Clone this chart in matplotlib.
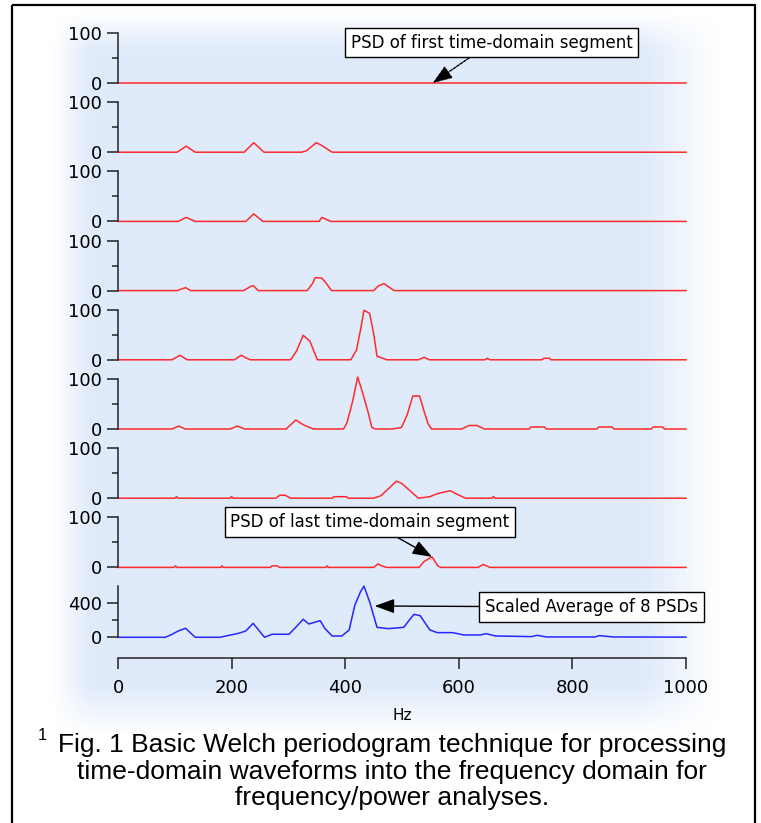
import matplotlib.pyplot as plt
from matplotlib.patches import Rectangle
import numpy as np

# PSD of each of the 8 time-domain segments (Hz, power)
seg1_hz = [0, 1000]
seg1_val = [0, 0]
seg2_hz = [0, 104, 120, 136, 222, 239, 257, 323, 332, 349, 358, 377, 1000]
seg2_val = [0, 0, 12, 0, 0, 19, 0, 0, 3, 19, 14, 0, 0]
seg3_hz = [0, 106, 120, 136, 225, 239, 255, 354, 359, 367, 374, 1000]
seg3_val = [0, 0, 8, 0, 0, 15, 0, 0, 8, 4, 0, 0]
seg4_hz = [0, 104, 119, 128, 221, 233, 238, 247, 333, 343, 347, 359, 367, 376,
           450, 458, 468, 476, 486, 1000]
seg4_val = [0, 0, 6, 0, 0, 8, 10, 0, 0, 15, 26, 25, 14, 0, 0, 9, 14, 8, 0, 0]
seg5_hz = [0, 95, 109, 122, 205, 217, 225, 233, 304, 314, 326, 338, 351, 410, 420,
           427, 433, 443, 450, 456, 469, 473, 529, 539, 548, 646, 650, 655, 746,
           750, 760, 762, 1000]
seg5_val = [0, 0, 9, 0, 0, 9, 4, 0, 0, 17, 49, 37, 0, 0, 20, 60, 99, 93, 53, 7, 2,
            0, 0, 5, 0, 0, 3, 0, 0, 3, 3, 0, 0]
seg6_hz = [0, 95, 107, 118, 198, 210, 223, 296, 313, 324, 331, 344, 397, 403, 413,
           422, 430, 440, 447, 453, 483, 499, 509, 519, 531, 539, 546, 552, 605,
           618, 632, 645, 724, 727, 751, 754, 843, 846, 870, 873, 939, 942, 959,
           962, 1000]
seg6_val = [0, 0, 6, 0, 0, 6, 0, 0, 18, 10, 6, 0, 0, 12, 55, 104, 75, 35, 3, 0, 0,
            3, 28, 66, 66, 35, 10, 0, 0, 7, 7, 0, 0, 4, 4, 0, 0, 4, 4, 0, 0, 4, 4,
            0, 0]
seg7_hz = [0, 100, 103, 106, 197, 200, 203, 278, 285, 294, 304, 377, 380, 402, 405,
           450, 463, 490, 499, 529, 549, 562, 585, 595, 612, 658, 661, 664, 1000]
seg7_val = [0, 0, 3, 0, 0, 3, 0, 0, 6, 6, 0, 0, 3, 3, 0, 0, 5, 34, 30, 0, 3, 9, 15,
            9, 0, 0, 3, 0, 0]
seg8_hz = [0, 98, 101, 104, 181, 183, 186, 268, 271, 281, 284, 366, 368, 371, 450,
           458, 464, 473, 530, 539, 553, 563, 569, 634, 643, 655, 1000]
seg8_val = [0, 0, 3, 0, 0, 3, 0, 0, 3, 3, 0, 0, 3, 0, 0, 7, 3, 0, 0, 12, 21, 3, 0,
            0, 6, 0, 0]

# scaled average of the 8 PSDs
avg_hz = [0, 83, 93, 106, 119, 136, 179, 212, 225, 238, 258, 271, 301, 314, 326, 336,
          356, 364, 377, 394, 407, 417, 427, 433, 443, 456, 476, 503, 513, 521, 532,
          549, 562, 589, 609, 638, 648, 665, 728, 738, 754, 840, 847, 873, 1000]
avg_val = [0, 0, 27, 73, 104, 0, 0, 46, 73, 161, 0, 35, 35, 123, 208, 154, 192, 104,
           15, 15, 85, 373, 527, 592, 411, 115, 100, 115, 200, 265, 250, 85, 54, 54,
           27, 27, 42, 15, 8, 23, 4, 4, 19, 4, 2]

segments = [(seg1_hz, seg1_val), (seg2_hz, seg2_val), (seg3_hz, seg3_val),
            (seg4_hz, seg4_val), (seg5_hz, seg5_val), (seg6_hz, seg6_val),
            (seg7_hz, seg7_val), (seg8_hz, seg8_val)]

xticks = [0, 200, 400, 600, 800, 1000]
caption = ["Fig. 1 Basic Welch periodogram technique for processing",
           "time-domain waveforms into the frequency domain for",
           "frequency/power analyses."]

W, H = 761, 823
fig = plt.figure(figsize=(W / 100, H / 100), dpi=100)
plt.rcParams['font.family'] = 'DejaVu Sans'

# soft light-blue backdrop + frame, drawn in pixel coords
bg = fig.add_axes([0, 0, 1, 1], zorder=-5)
bg.set_xlim(0, W)
bg.set_ylim(H, 0)
bg.axis('off')
xx = np.arange(W) + 0.5
yy = np.arange(H) + 0.5
fade_x = np.clip((xx - 52) / 40, 0, 1) * np.clip((718 - xx) / 75, 0, 1)
fade_y = np.clip((yy - 12) / 40, 0, 1) * np.clip((735 - yy) / 50, 0, 1)
img = np.ones((H, W, 4))
img[..., :3] = (0.878, 0.918, 0.988)
img[..., 3] = np.outer(fade_y, fade_x)
bg.imshow(img, extent=(0, W, H, 0), aspect='auto', interpolation='bilinear')
bg.add_patch(Rectangle((12, 5), 743, 840, fill=False, ec='black', lw=1.6,
                       clip_on=False))

left, width = 118 / W, 568 / W
red = '#ff2b2b'
blue = '#2626ff'
axes = []


def style_y(ax, top):
    for s in ['top', 'right', 'bottom']:
        ax.spines[s].set_visible(False)
    ax.spines['left'].set_bounds(0, top)
    ax.spines['left'].set_linewidth(1.1)
    ax.spines['left'].set_color('#222222')
    ax.set_facecolor('none')
    ax.tick_params(axis='y', which='major', length=8, width=1.1, pad=3.5,
                   labelsize=13, color='#222222')
    ax.tick_params(axis='y', which='minor', length=4, width=1.1, color='#222222')
    ax.set_xlim(0, 1000)


for i, (hz, val) in enumerate(segments):
    base = 83 + 69.2 * i
    ax = fig.add_axes([left, 1 - base / H, width, 50 / H])
    ax.plot(hz, val, color=red, lw=1.1, clip_on=False)
    ax.set_ylim(0, 100)
    ax.set_yticks([0, 100])
    ax.set_yticks([50], minor=True)
    ax.set_xticks([])
    style_y(ax, 100)
    axes.append(ax)

# average panel with the frequency axis
ax = fig.add_axes([left, 1 - 637.3 / H, width, 51.9 / H])
ax.plot(avg_hz, avg_val, color=blue, lw=1.1, clip_on=False)
ax.set_ylim(0, 600)
ax.set_yticks([0, 400])
ax.set_yticks([200], minor=True)
style_y(ax, max(avg_val))
ax.spines['bottom'].set_visible(True)
ax.spines['bottom'].set_position(('outward', 15))
ax.spines['bottom'].set_linewidth(1.1)
ax.spines['bottom'].set_color('#222222')
ax.set_xticks(xticks)
ax.tick_params(axis='x', length=8, width=1.1, pad=7, labelsize=13,
               color='#222222')
ax.set_xlabel('Hz', fontsize=11, labelpad=8)
axes.append(ax)

box = dict(boxstyle='square,pad=0.35', fc='white', ec='black', lw=1)
head = '-|>,head_length=0.6,head_width=0.22'
axes[0].annotate('PSD of first time-domain segment', xy=(554, 0), xycoords='data',
                 xytext=(491.5, H - 42.5), textcoords='figure pixels',
                 ha='center', va='center', fontsize=12, bbox=box,
                 arrowprops=dict(arrowstyle=head, color='black', lw=1, ls=(0, (2, 1)),
                                 mutation_scale=20, shrinkA=0, shrinkB=0))
axes[7].annotate('PSD of last time-domain segment', xy=(553, 21), xycoords='data',
                 xytext=(370, H - 522), textcoords='figure pixels',
                 ha='center', va='center', fontsize=12, bbox=box,
                 arrowprops=dict(arrowstyle=head, color='black', lw=1,
                                 mutation_scale=20, shrinkA=0, shrinkB=0))
axes[8].annotate('Scaled Average of 8 PSDs', xy=(452, 362), xycoords='data',
                 xytext=(591.5, H - 607), textcoords='figure pixels',
                 ha='center', va='center', fontsize=12, bbox=box,
                 arrowprops=dict(arrowstyle=head, color='black', lw=1,
                                 mutation_scale=20, shrinkA=0, shrinkB=0))

# caption
cap_font = 'Liberation Sans'
for line, yb in zip(caption, [752, 779, 805]):
    fig.text(392 / W, 1 - yb / H, line, ha='center', va='baseline',
             fontsize=19, family=cap_font)
fig.text(38 / W, 1 - 740 / H, '1', ha='left', va='baseline', fontsize=12,
         family=cap_font)

fig.savefig('out.png', dpi=100)
